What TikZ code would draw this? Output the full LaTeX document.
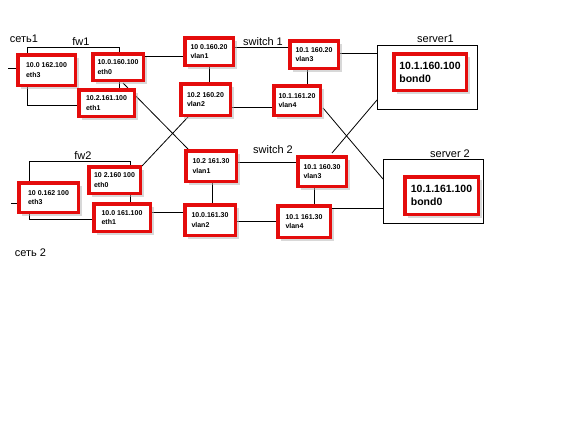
\documentclass[tikz,border=0pt]{standalone}
\usepackage{fontspec}
\setmainfont{Liberation Sans}
\usetikzlibrary{shadows,backgrounds}
\definecolor{boxred}{RGB}{228,12,12}
\tikzset{
    ipbox/.style={draw=boxred, line width=3.5pt, fill=white, align=left, inner sep=2pt,
        font=\fontsize{7}{9.5}\selectfont\bfseries,
        drop shadow={shadow xshift=3.5pt, shadow yshift=-3.5pt, fill=black!30}},
    bondbox/.style={ipbox, font=\fontsize{10.5}{13}\selectfont\bfseries},
    hostframe/.style={draw, line width=0.8pt},
    tag/.style={anchor=base, font=\fontsize{11}{13}\selectfont},
    link/.style={line width=0.8pt}
}

\begin{document}
\begin{tikzpicture}[x=1pt, y=-1pt]
    \useasboundingbox (0,0) rectangle (576,432);

    % frames
    \node[hostframe, minimum width=92, minimum height=58] (fw1) at (73,76) {};
    \node[hostframe, minimum width=101, minimum height=58] (fw2) at (79.5,190) {};
    \node[hostframe, fill=white, minimum width=100, minimum height=64] (srv1) at (427,77) {};
    \node[hostframe, fill=white, minimum width=100, minimum height=64] (srv2) at (433,191) {};

    % fw1
    \node[ipbox, minimum width=57.5, minimum height=30.5] (fw1eth3) at (46.5,70) {10.0 162.100\\eth3};
    \node[ipbox, minimum width=50.5, minimum height=26.5] (fw1eth0) at (118,67) {10.0.160.100\\eth0};
    \node[ipbox, minimum width=55.5, minimum height=26.5] (fw1eth1) at (106.5,103) {10.2.161.100\\eth1};
    % fw2
    \node[ipbox, minimum width=59.5, minimum height=29.5] (fw2eth3) at (48.5,197.5) {10 0.162 100\\eth3};
    \node[ipbox, minimum width=51.5, minimum height=26.5] (fw2eth0) at (114.5,180) {10 2.160 100\\eth0};
    \node[ipbox, minimum width=56.5, minimum height=27.5] (fw2eth1) at (122,217.5) {10.0 161.100\\eth1};
    % switch 1
    \node[ipbox, minimum width=48.5, minimum height=27.5] (s1vlan1) at (209,51.5) {10 0.160.20\\vlan1};
    \node[ipbox, minimum width=48.5, minimum height=27.5] (s1vlan3) at (314,54.5) {10.1 160.20\\vlan3};
    \node[ipbox, minimum width=49.5, minimum height=31.5] (s1vlan2) at (205.5,99.5) {10.2 160.20\\vlan2};
    \node[ipbox, minimum width=46.5, minimum height=29.5] (s1vlan4) at (297,100.5) {10.1.161.20\\vlan4};
    % switch 2
    \node[ipbox, minimum width=50.5, minimum height=30.5] (s2vlan1) at (211,166) {10.2 161.30\\vlan1};
    \node[ipbox, minimum width=48.5, minimum height=29.5] (s2vlan3) at (322,171.5) {10.1 160.30\\vlan3};
    \node[ipbox, minimum width=50.5, minimum height=30.5] (s2vlan2) at (210,220) {10.0.161.30\\vlan2};
    \node[ipbox, minimum width=52.5, minimum height=31.5] (s2vlan4) at (304,221.5) {10.1 161.30\\vlan4};
    % servers
    \node[bondbox, minimum width=72.5, minimum height=36.5] (srv1bond) at (430,72) {10.1.160.100\\bond0};
    \node[bondbox, minimum width=73.5, minimum height=37.5] (srv2bond) at (441.5,195.5) {10.1.161.100\\bond0};

    % labels
    \node[tag] (lan1label) at (24,42) {сеть1};
    \node[tag] (lan2label) at (30.5,256) {сеть 2};
    \node[tag] (fw1label) at (81,45) {fw1};
    \node[tag] (fw2label) at (83,159) {fw2};
    \node[tag] (s1label) at (263,45) {switch 1};
    \node[tag] (s2label) at (273,153) {switch 2};
    \node[tag] (srv1label) at (435.5,42) {server1};
    \node[tag] (srv2label) at (450,157) {server 2};

    \coordinate (lan1) at (8,68);
    \coordinate (lan2) at (11,203);

    \begin{scope}[on background layer]
        \draw[link] (lan1) -- (fw1eth3 |- lan1);
        \draw[link] (lan2) -- (fw2eth3 |- lan2);
        \draw[link] (fw1eth0 |- 0,56) -- (s1vlan1 |- 0,56);
        \draw[link] (fw2eth1 |- 0,212) -- (s2vlan2 |- 0,212);
        % switch 1
        \draw[link] (s1vlan1 |- 0,47) -- (s1vlan3 |- 0,47);
        \draw[link] (s1vlan1 -| 209,0) -- (s1vlan2 -| 209,0);
        \draw[link] (s1vlan3 -| 307,0) -- (s1vlan4 -| 307,0);
        \draw[link] (s1vlan2 |- 0,107) -- (s1vlan4 |- 0,107);
        \draw[link] (s1vlan3 |- 0,53) -- (srv1 |- 0,53);
        % switch 2
        \draw[link] (s2vlan1 |- 0,162) -- (s2vlan3 |- 0,162);
        \draw[link] (s2vlan1 -| 212,0) -- (s2vlan2 -| 212,0);
        \draw[link] (s2vlan3 -| 314,0) -- (s2vlan4 -| 314,0);
        \draw[link] (s2vlan2 |- 0,221) -- (s2vlan4 |- 0,221);
        \draw[link] (s2vlan4 |- 0,208) -- (srv2 |- 0,208);
        % cross links
        \draw[link] ([shift={(5,16)}]fw1eth0.center) -- ([shift={(-23,-17)}]s2vlan1.center);
        \draw[link] ([shift={(27.5,-14)}]fw2eth0.center) -- ([shift={(-17.5,17.5)}]s1vlan2.center);
        \draw[link] ([shift={(26,7.5)}]s1vlan4.center) -- ([shift={(-50,-12)}]srv2.center);
        \draw[link] ([shift={(10,-18.5)}]s2vlan3.center) -- ([shift={(-50,23)}]srv1.center);
    \end{scope}
\end{tikzpicture}
\end{document}
